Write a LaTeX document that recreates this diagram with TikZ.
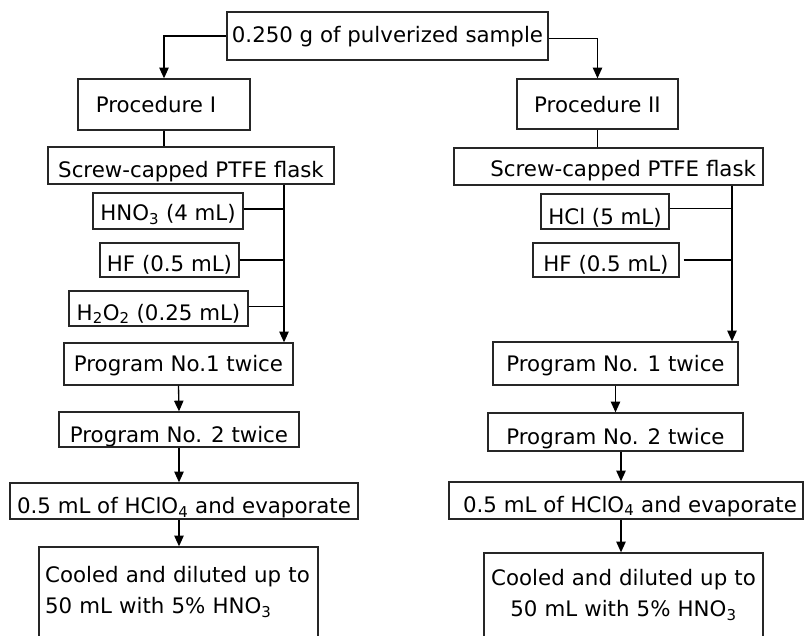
\documentclass[tikz,border=0pt]{standalone}
\usepackage{fontspec}
\setmainfont{DejaVu Sans}
\usetikzlibrary{arrows.meta}
\begin{document}
\begin{tikzpicture}[x=0.75pt,y=-0.75pt,
  box/.style={draw=black!85, line width=1pt, fill=white, inner sep=0pt, font=\fontsize{16}{23.5}\selectfont},
  bb/.style args={#1,#2,#3,#4}{at={({(#1+#3)/2},{(#2+#4)/2})},
     minimum width={(#3-#1)*0.75pt}, minimum height={(#4-#2)*0.75pt}},
  txt/.style={font=\fontsize{16}{23.5}\selectfont, inner sep=0pt, text depth=0.4pt, text height=#1},
  txt/.default=12pt,
  ln/.style={line width=1pt},
  arr/.style={line width=1pt, -{Triangle[length=8pt,width=7pt]}}]
\useasboundingbox (0,0) rectangle (805,635);

% top
\node[box, txt=10pt, bb={227,12,548,60}] (top) {0.250 g of pulverized sample};

% left column
\node[box, txt=13pt, bb={78,79,250,130}] (p1) {Procedure I\kern12pt};
\node[box, txt=18pt, bb={48,147,334,184}] (s1) {Screw-capped PTFE flask};
\node[box, txt=15pt, bb={93,193,243,229}] (hno3) {HNO\textsubscript{3} (4 mL)};
\node[box, txt=18pt, bb={100,243,239,277}] (hfL) {HF (0.5 mL)};
\node[box, txt=18pt, bb={69,291,248,326}] (h2o2) {H\textsubscript{2}O\textsubscript{2} (0.25 mL)};
\node[box, txt=12pt, bb={64,343,293,385}] (q1L) {Program No.1 twice};
\node[box, bb={59,412,299,447},
  path picture={\node[txt=19.5pt] at (path picture bounding box.center) {Program No. 2 twice};}] (q2L) {};
\node[box, bb={10,483,358,519},
  path picture={\node[txt=19.5pt] at (path picture bounding box.center) {0.5 mL of HClO\textsubscript{4} and evaporate};}] (h4L) {};
\node[box, bb={39,547,318,637}, text width=200pt, align=left] (c1)
  {Cooled and diluted up to\\50 mL with 5\% HNO\textsubscript{3}};

% right column
\node[box, txt=13.5pt, bb={517,79,678,129}] (p2) {Procedure II};
\node[box, txt=15.75pt, bb={454,148,763,185}] (s2) {\kern22pt Screw-capped PTFE flask};
\node[box, txt=19.5pt, bb={541,194,669,229}] (hcl) {HCl (5 mL)};
\node[box, txt=18pt, bb={533,243,679,277}] (hfR) {HF (0.5 mL)};
\node[box, txt=12pt, bb={493,342,738,385}] (q1R) {Program No. 1 twice};
\node[box, bb={488,413,743,451},
  path picture={\node[txt=19.5pt] at (path picture bounding box.center) {Program No. 2 twice};}] (q2R) {};
\node[box, bb={449,482,803,519},
  path picture={\node[txt=18pt, xshift=3pt] at (path picture bounding box.center) {0.5 mL of HClO\textsubscript{4} and evaporate};}] (h4R) {};
\node[box, bb={484,553,763,637}, text width=205pt, align=center] (c2)
  {Cooled and diluted up to\\50 mL with 5\% HNO\textsubscript{3}};

% connectors
\coordinate (vL) at (284,0);
\coordinate (vR) at (732,0);
\coordinate (aR) at (621,0);

\draw[arr] (top.west) -| (p1.north);
\draw[arr] ([yshift=-2pt]top.east) -| (p2.north);

\draw[ln] (p1.south) -- (p1.south |- s1.north);
\draw[ln] (p2.south) -- (p2.south |- s2.north);

\draw[arr] (s1.south -| vL) -- (q1L.north -| vL);
\draw[ln] ([yshift=1.5pt]hno3.east) -- ([yshift=1.5pt]hno3.east -| vL);
\draw[ln] (hfL.east) -- (hfL.east -| vL);
\draw[ln] ([yshift=1.5pt]h2o2.east) -- ([yshift=1.5pt]h2o2.east -| vL);

\draw[arr] (s2.south -| vR) -- (q1R.north -| vR);
\draw[ln] ([yshift=2.5pt]hcl.east) -- ([yshift=2.5pt]hcl.east -| vR);
\draw[ln] ([xshift=3pt]hfR.east) -- (hfR.east -| vR);

\draw[arr] (q1L.south) -- (q2L.north);
\draw[arr] (q2L.south) -- (q2L.south |- h4L.north);
\draw[arr] (h4L.south -| q2L.south) -- (c1.north -| q2L.south);

\draw[arr] (q1R.south) -- (q1R.south |- q2R.north);
\draw[arr] (q2R.south -| aR) -- (h4R.north -| aR);
\draw[arr] (h4R.south -| aR) -- (c2.north -| aR);
\end{tikzpicture}
\end{document}
